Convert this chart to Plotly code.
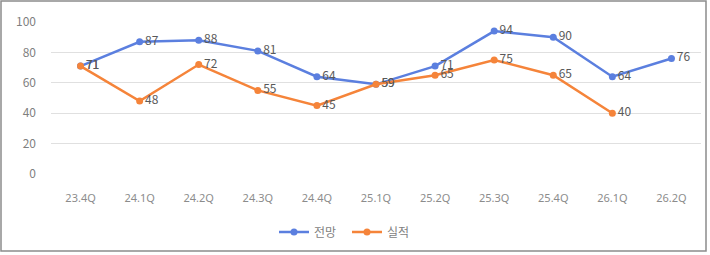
import plotly.graph_objects as go

categories = ["23.4Q", "24.1Q", "24.2Q", "24.3Q", "24.4Q", "25.1Q", "25.2Q", "25.3Q", "25.4Q", "26.1Q", "26.2Q"]
forecast = [71, 87, 88, 81, 64, 59, 71, 94, 90, 64, 76]
actual = [71, 48, 72, 55, 45, 59, 65, 75, 65, 40, None]
y_ticks = [0, 20, 40, 60, 80, 100]

BLUE = "#5B7FDF"
ORANGE = "#F5843A"
LABEL = "#595959"
FONT = "Noto Sans CJK KR"

fig = go.Figure()
fig.add_trace(go.Scatter(
    x=categories, y=forecast, name="전망", mode="lines+markers+text",
    line=dict(color=BLUE, width=2.5), marker=dict(size=7, color=BLUE),
    text=[str(v) for v in forecast], textposition="middle right",
    textfont=dict(color=LABEL, size=12, family=FONT), cliponaxis=False,
))
fig.add_trace(go.Scatter(
    x=categories, y=actual, name="실적", mode="lines+markers+text",
    line=dict(color=ORANGE, width=2.5), marker=dict(size=7, color=ORANGE),
    text=[str(v) if v is not None else "" for v in actual], textposition="middle right",
    textfont=dict(color=LABEL, size=12, family=FONT), cliponaxis=False,
    connectgaps=False,
))

L, R, T, B = 51, 701, 22, 174
W, H = 710, 255
pw, ph = R - L, B - T

def px_x(x):
    return (x - L) / pw

def px_y(y):
    return (B - y) / ph

fig.add_shape(type="rect", xref="paper", yref="paper",
              x0=px_x(1), x1=px_x(706), y0=px_y(251), y1=px_y(1),
              line=dict(color="#8C8C8C", width=1.5), fillcolor="rgba(0,0,0,0)", layer="below")

fig.update_layout(
    width=W, height=H,
    margin=dict(l=L, r=W - R, t=T, b=H - B, autoexpand=False),
    paper_bgcolor="white", plot_bgcolor="white",
    font=dict(family=FONT, color="#7F7F7F", size=11),
    showlegend=True,
    legend=dict(orientation="h", x=px_x(347), xanchor="center", y=px_y(232), yanchor="middle",
                font=dict(size=12, color="#7F7F7F", family=FONT),
                itemwidth=30, entrywidth=28, tracegroupgap=0, bgcolor="rgba(0,0,0,0)"),
    xaxis=dict(type="category", categoryorder="array", categoryarray=categories,
               range=[-0.5, len(categories) - 0.5],
               showgrid=False, showline=False, ticks="", ticklen=0, automargin=False,
               tickfont=dict(size=11, color="#8C8C8C", family="URW Gothic, Century Gothic, Noto Sans"),
               ticklabelstandoff=16, fixedrange=True),
    yaxis=dict(range=[0, 100], tickvals=y_ticks, showgrid=True, gridcolor="#E0E0E0", gridwidth=1,
               zeroline=False, showline=False, ticks="", ticklen=0, automargin=False,
               tickfont=dict(size=12, color="#7F7F7F", family=FONT), ticklabelstandoff=14),
)

fig.write_html("out.html")
